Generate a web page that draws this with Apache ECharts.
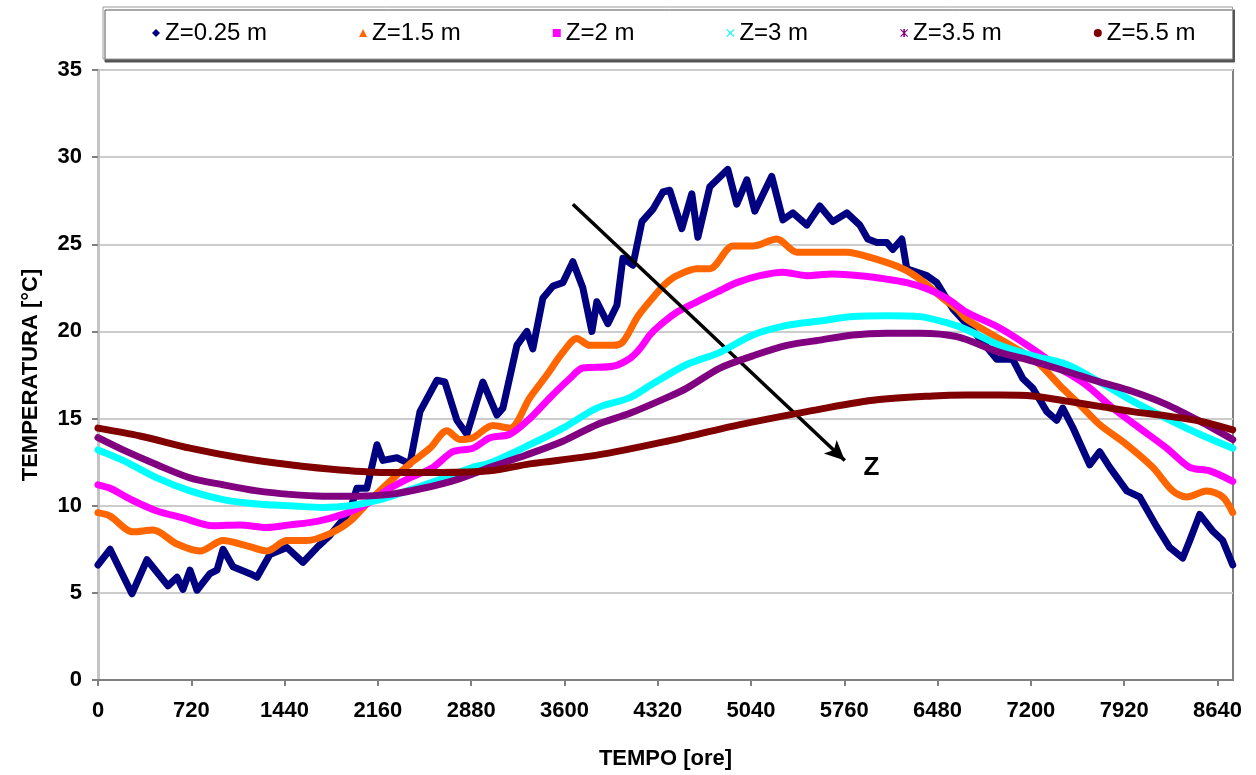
<!DOCTYPE html>
<html>
<head>
<meta charset="utf-8">
<script src="https://cdn.jsdelivr.net/npm/echarts@6/dist/echarts.min.js"></script>
<style>html,body{margin:0;padding:0;background:#fff;}#c{width:1256px;height:775px;}</style>
</head>
<body>
<div id="c"></div>
<script>
// ---- data (hours, temperature °C) ----
const seriesNames = ['Z=0.25 m', 'Z=1.5 m', 'Z=2 m', 'Z=3 m', 'Z=3.5 m', 'Z=5.5 m'];
const xTicks = [0, 720, 1440, 2160, 2880, 3600, 4320, 5040, 5760, 6480, 7200, 7920, 8640];

const h025 = [0,93,262,378,540,610,656,710,764,864,918,965,1042,1173,1227,1327,1458,1582,1690,1790,1944,1998,2075,2153,2199,2307,2407,2485,2616,2677,2770,2847,2924,2970,3079,3125,3233,3310,3356,3433,3511,3588,3665,3742,3812,3850,3935,4005,4051,4128,4198,4282,4360,4413,4506,4583,4630,4722,4861,4930,5008,5069,5200,5286,5363,5471,5571,5671,5779,5880,5941,6011,6088,6134,6204,6242,6397,6474,6597,6782,6937,7060,7137,7214,7323,7400,7446,7523,7654,7731,7809,7940,8040,8171,8272,8372,8426,8503,8603,8681,8758];
const v025 = [6.6,7.5,4.95,6.9,5.4,5.9,5.2,6.3,5.15,6.1,6.3,7.5,6.5,6.1,5.9,7.2,7.6,6.75,7.6,8.3,9.7,11.0,11.0,13.5,12.6,12.75,12.4,15.4,17.2,17.1,14.9,14.1,16.0,17.1,15.2,15.6,19.2,20.0,19.0,21.9,22.6,22.8,24.0,22.5,20.0,21.7,20.45,21.5,24.2,23.8,26.3,27.0,28.0,28.1,25.9,27.9,25.4,28.3,29.3,27.3,28.7,26.9,28.9,26.4,26.8,26.1,27.2,26.3,26.8,26.1,25.3,25.1,25.1,24.7,25.3,23.6,23.2,22.8,21.3,19.8,18.4,18.4,17.3,16.75,15.4,14.9,15.6,14.5,12.35,13.1,12.2,10.85,10.5,8.8,7.6,7.0,8.0,9.5,8.55,8.0,6.6];

const h15 = [0,93,270,424,610,787,965,1150,1304,1458,1613,1790,1944,2099,2253,2407,2562,2693,2793,2893,3048,3179,3333,3464,3588,3696,3796,3974,4051,4170,4313,4390,4467,4622,4722,4900,5054,5239,5393,5571,5779,5980,6211,6343,6520,6628,6705,6906,7091,7269,7423,7577,7731,7940,8141,8295,8403,8557,8681,8758];
const v15 = [9.6,9.4,8.5,8.6,7.8,7.4,8.0,7.7,7.4,8.0,8.0,8.4,9.1,10.3,11.4,12.4,13.3,14.3,13.8,13.9,14.6,14.45,16.2,17.5,18.8,19.6,19.2,19.2,19.4,20.9,22.2,22.8,23.2,23.6,23.6,24.9,24.9,25.3,24.55,24.55,24.55,24.2,23.6,23.0,21.9,21.3,20.7,19.8,19.0,18.1,16.9,15.8,14.65,13.5,12.2,10.85,10.5,10.85,10.5,9.6];

const h2 = [0,93,270,455,656,887,1096,1304,1481,1690,1890,2075,2253,2407,2585,2739,2893,3025,3179,3333,3488,3642,3742,3974,4105,4182,4259,4336,4467,4622,4776,4930,5108,5286,5471,5671,5880,6088,6242,6397,6551,6705,6960,7214,7423,7631,7832,8040,8249,8426,8580,8758];
const v2 = [11.2,11.0,10.3,9.7,9.3,8.85,8.9,8.75,8.9,9.1,9.5,10.1,11.0,11.6,12.2,13.1,13.3,13.9,14.1,15.0,16.2,17.3,17.9,18.0,18.45,19.0,19.8,20.35,21.1,21.7,22.25,22.8,23.2,23.4,23.2,23.3,23.2,23.0,22.8,22.45,21.9,21.1,20.2,19.0,17.9,16.9,15.6,14.45,13.3,12.2,12.0,11.4];

const h3 = [0,193,455,710,965,1227,1481,1736,1944,2153,2384,2639,2893,3025,3333,3588,3850,4105,4282,4545,4800,5054,5316,5571,5826,6088,6343,6550,6705,6960,7214,7477,7731,7986,8249,8503,8758];
const v3 = [13.2,12.6,11.6,10.85,10.35,10.1,10.0,9.9,10.0,10.3,10.85,11.5,12.2,12.45,13.5,14.45,15.6,16.2,17.0,18.1,18.8,19.8,20.35,20.6,20.85,20.9,20.85,20.5,20.1,19.2,18.6,18.1,17.1,16.0,15.0,14.1,13.3];

const h35 = [0,193,455,710,965,1227,1481,1736,1998,2253,2508,2770,3025,3300,3588,3850,4105,4390,4545,4800,5054,5316,5571,5826,6088,6343,6628,6960,7214,7477,7731,7986,8249,8503,8758];
const v35 = [13.9,13.2,12.35,11.6,11.2,10.85,10.65,10.55,10.55,10.65,11.0,11.5,12.2,12.9,13.7,14.65,15.3,16.2,16.75,17.9,18.6,19.2,19.5,19.8,19.9,19.9,19.7,18.8,18.3,17.7,17.1,16.55,15.8,14.85,13.8];

const h55 = [0,324,710,1096,1481,1867,2253,2639,3025,3333,3850,4390,4954,5471,5980,6443,6705,6960,7214,7477,7731,7986,8249,8503,8758];
const v55 = [14.45,14.0,13.3,12.75,12.35,12.05,11.9,11.9,12.0,12.4,12.9,13.7,14.65,15.4,16.05,16.3,16.35,16.35,16.3,16.0,15.7,15.4,15.15,14.85,14.35];

// annotation arrow (data coordinates: hours, °C)
const arrowFrom = [3665, 27.3];
const arrowTo = [5764, 12.6];
const zLabelAt = [5970, 12.15];

const colors = ['#000080', '#FF6600', '#FF00FF', '#00FFFF', '#800080', '#800000'];
const hours = [h025, h15, h2, h3, h35, h55];
const vals = [v025, v15, v2, v3, v35, v55];
const icons = [
  'diamond',
  'triangle',
  'rect',
  'path://M0,1L1,0L5,4L9,0L10,1L6,5L10,9L9,10L5,6L1,10L0,9L4,5Z',
  'path://M0,1L1,0L5,4L9,0L10,1L6,5L10,9L9,10L5,6L1,10L0,9L4,5ZM4,0L6,0L6,10L4,10Z',
  'circle'
];

const zip = (a, b) => a.map((x, i) => [x, b[i]]);

const series = seriesNames.map((n, i) => ({
  name: n,
  type: 'line',
  data: zip(hours[i], vals[i]),
  showSymbol: false,
  symbol: 'none',
  smooth: i === 0 ? false : 0.3,
  lineStyle: { color: colors[i], width: 7, join: 'round', cap: 'round' },
  itemStyle: { color: colors[i] },
  z: 2 + i,
  animation: false
}));

series.push({
  name: 'arrow',
  type: 'line',
  data: [],
  silent: true,
  animation: false,
  z: 20,
  markLine: {
    silent: true,
    animation: false,
    symbol: ['none', 'arrow'],
    symbolSize: [14, 20],
    lineStyle: { color: '#000', width: 3.5, type: 'solid' },
    label: { show: false },
    data: [[{ coord: arrowFrom }, { coord: arrowTo }]]
  },
  markPoint: {
    silent: true,
    animation: false,
    symbol: 'circle',
    symbolSize: 1,
    itemStyle: { color: 'rgba(0,0,0,0)' },
    label: {
      show: true, formatter: 'Z', color: '#000',
      fontFamily: 'Liberation Sans', fontWeight: 'bold', fontSize: 26,
      position: 'inside'
    },
    data: [{ coord: zLabelAt }]
  }
});

const chart = echarts.init(document.getElementById('c'), null, { renderer: 'canvas' });
chart.setOption({
  backgroundColor: '#fff',
  animation: false,
  textStyle: { fontFamily: 'Liberation Sans' },
  legend: {
    data: seriesNames.map((n, i) => ({ name: n, icon: icons[i], itemStyle: { color: colors[i] } })),
    left: 103,
    top: 7,
    itemWidth: 8,
    itemHeight: 8,
    itemGap: 92,
    padding: [14, 37, 14, 49],
    backgroundColor: '#fff',
    borderColor: '#9a9a9a',
    borderWidth: 1,
    shadowColor: '#555',
    shadowBlur: 0,
    shadowOffsetX: 2,
    shadowOffsetY: 3,
    textStyle: { fontFamily: 'Liberation Sans', fontSize: 24, color: '#000' },
    selectedMode: false
  },
  grid: {
    left: 98, right: 23, top: 70, bottom: 92,
    show: true, borderColor: '#808080', borderWidth: 2, backgroundColor: '#fff'
  },
  xAxis: {
    type: 'value',
    min: 0, max: 8760, interval: 720,
    name: 'TEMPO [ore]',
    nameLocation: 'middle',
    nameGap: 68,
    nameTextStyle: { fontFamily: 'Liberation Sans', fontWeight: 'bold', fontSize: 22, color: '#000' },
    axisLine: { show: true, lineStyle: { color: '#808080', width: 2 } },
    axisTick: { show: true, inside: false, length: 6, lineStyle: { color: '#808080', width: 2 } },
    axisLabel: {
      showMaxLabel: false, margin: 20,
      formatter: v => (xTicks.indexOf(v) >= 0 ? String(v) : ''),
      fontFamily: 'Liberation Sans', fontWeight: 'bold', fontSize: 22, color: '#000'
    },
    splitLine: { show: false }
  },
  yAxis: {
    type: 'value',
    min: 0, max: 35, interval: 5,
    name: 'TEMPERATURA [°C]',
    nameLocation: 'middle',
    nameGap: 56,
    nameTextStyle: { fontFamily: 'Liberation Sans', fontWeight: 'bold', fontSize: 22, color: '#000' },
    axisLine: { show: true, lineStyle: { color: '#c4c4c4', width: 3 } },
    axisTick: { show: true, inside: false, length: 6, lineStyle: { color: '#808080', width: 2 } },
    axisLabel: { margin: 16, fontFamily: 'Liberation Sans', fontWeight: 'bold', fontSize: 22, color: '#000' },
    splitLine: { show: true, lineStyle: { color: '#cccccc', width: 2 } }
  },
  series: series
});
</script>
</body>
</html>
